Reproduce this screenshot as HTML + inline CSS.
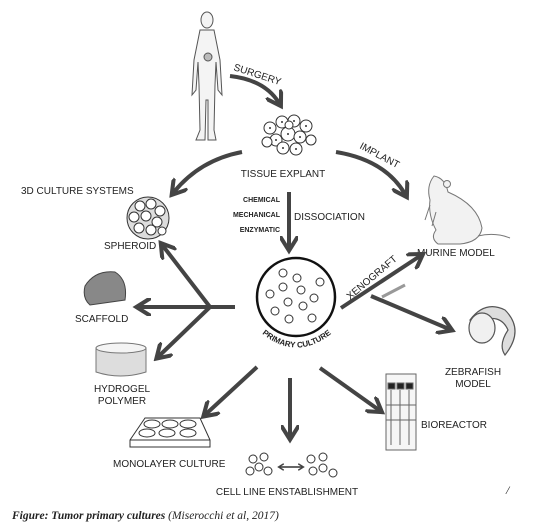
<!DOCTYPE html>
<html><head><meta charset="utf-8"><style>
html,body{margin:0;padding:0;background:#fff;}
svg{display:block;}
text{font-family:"Liberation Sans",sans-serif;fill:#222;}
.lbl{font-size:10px;}
.sm{font-size:7px;font-weight:bold;}
.arr{stroke:#444;stroke-width:4;fill:none;}
</style></head><body>
<svg width="542" height="526" viewBox="0 0 542 526">
<defs>
<marker id="ah" viewBox="0 0 10 10" refX="6" refY="5" markerWidth="4.6" markerHeight="4.6" orient="auto-start-reverse">
<path d="M0,0 L8,5 L0,10" fill="none" stroke="#444" stroke-width="2.2"/>
</marker>
</defs>

<g stroke="#555" stroke-width="1" fill="#f4f4f4">
<ellipse cx="207" cy="20" rx="6" ry="8"/>
<path d="M200,30 L214,30 L220,60 L222,95 L218,90 L216,62 L215,85 L214,130 L216,140 L208,140 L208,100 L206,100 L205,140 L196,140 L200,130 L199,85 L198,62 L196,90 L192,95 L194,60 Z"/>
<ellipse cx="208" cy="57" rx="4" ry="4" fill="#bbb"/>
</g>

<path class="arr" d="M230,76 Q265,80 279,103" marker-end="url(#ah)"/>
<text class="lbl" transform="translate(233,70) rotate(18)">SURGERY</text>

<g stroke="#333" stroke-width="1" fill="#fff">
<circle cx="270" cy="128" r="6"/><circle cx="282" cy="122" r="6"/><circle cx="294" cy="121" r="6"/><circle cx="306" cy="126" r="6"/>
<circle cx="276" cy="140" r="6"/><circle cx="288" cy="134" r="7"/><circle cx="300" cy="137" r="6"/><circle cx="311" cy="140" r="5"/>
<circle cx="283" cy="148" r="6"/><circle cx="296" cy="149" r="6"/><circle cx="267" cy="142" r="5"/><circle cx="289" cy="125" r="4"/>
<g fill="#333" stroke="none"><circle cx="270" cy="128" r="1"/><circle cx="282" cy="122" r="1"/><circle cx="294" cy="121" r="1"/><circle cx="306" cy="126" r="1"/><circle cx="276" cy="140" r="1"/><circle cx="288" cy="134" r="1"/><circle cx="300" cy="137" r="1"/><circle cx="283" cy="148" r="1"/><circle cx="296" cy="149" r="1"/></g>
</g>
<text class="lbl" x="283" y="177" text-anchor="middle">TISSUE EXPLANT</text>

<path class="arr" d="M242,152 Q200,160 174,192" marker-end="url(#ah)"/>
<path class="arr" d="M336,152 Q385,160 405,194" marker-end="url(#ah)"/>
<text class="lbl" transform="translate(359,148) rotate(28)">IMPLANT</text>

<text class="lbl" x="21" y="194">3D CULTURE SYSTEMS</text>

<g stroke="#333" stroke-width="1" fill="#fff">
<circle cx="148" cy="218" r="21" fill="#ddd"/>
<circle cx="140" cy="206" r="5"/><circle cx="151" cy="204" r="5"/><circle cx="160" cy="211" r="5"/>
<circle cx="134" cy="217" r="5"/><circle cx="146" cy="216" r="5"/><circle cx="157" cy="222" r="5"/>
<circle cx="139" cy="228" r="5"/><circle cx="151" cy="230" r="5"/><circle cx="162" cy="231" r="4"/>
</g>
<text class="lbl" x="104" y="249">SPHEROID</text>

<text class="sm" x="280" y="202" text-anchor="end">CHEMICAL</text>
<text class="sm" x="280" y="217" text-anchor="end">MECHANICAL</text>
<text class="sm" x="280" y="232" text-anchor="end">ENZYMATIC</text>
<text class="lbl" x="294" y="220">DISSOCIATION</text>
<line class="arr" x1="289" y1="192" x2="289" y2="247" marker-end="url(#ah)"/>

<g stroke="#777" stroke-width="1" fill="#f2f2f2">
<path d="M434,176 Q445,178 448,192 Q478,205 482,228 Q480,242 460,244 L438,244 Q430,238 436,230 Q428,215 430,200 Q426,186 434,176 Z"/>
<path d="M478,236 Q495,232 510,238" fill="none"/>
<circle cx="447" cy="184" r="3.5"/>
<path d="M430,205 L425,220 M436,212 L432,226" fill="none"/>
</g>
<text class="lbl" x="417" y="256">MURINE MODEL</text>

<g>
<circle cx="296" cy="297" r="39" fill="#fff" stroke="#111" stroke-width="2.5"/>
<g stroke="#333" stroke-width="1" fill="#fff">
<circle cx="270" cy="294" r="4"/><circle cx="283" cy="287" r="4"/><circle cx="301" cy="290" r="4"/><circle cx="314" cy="298" r="4"/>
<circle cx="275" cy="311" r="4"/><circle cx="288" cy="302" r="4"/><circle cx="303" cy="306" r="4"/><circle cx="312" cy="318" r="4"/>
<circle cx="289" cy="319" r="4"/><circle cx="297" cy="278" r="4"/><circle cx="320" cy="282" r="4"/><circle cx="283" cy="273" r="4"/>
</g>
</g>
<path id="pcpath" d="M258,330 Q296,365 336,330" fill="none"/>
<text style="font-size:8px;font-weight:bold"><textPath href="#pcpath" startOffset="6%">PRIMARY CULTURE</textPath></text>

<line class="arr" x1="341" y1="308" x2="420" y2="256" marker-end="url(#ah)"/>
<text class="lbl" transform="translate(350,300) rotate(-40)">XENOGRAFT</text>
<line x1="382" y1="297" x2="405" y2="285" stroke="#999" stroke-width="3"/>
<line class="arr" x1="371" y1="296" x2="449" y2="329" marker-end="url(#ah)"/>

<g stroke="#555" stroke-width="1.2">
<path d="M470,320 Q485,300 505,310 Q525,330 505,355 Q498,345 508,330 Q500,312 478,322 Z" fill="#ddd"/>
<ellipse cx="482" cy="328" rx="13" ry="15" fill="#f0f0f0"/>
</g>
<text class="lbl" x="473" y="375" text-anchor="middle">ZEBRAFISH</text>
<text class="lbl" x="473" y="387" text-anchor="middle">MODEL</text>

<g>
<line class="arr" x1="235" y1="307" x2="140" y2="307" marker-end="url(#ah)"/>
<line class="arr" x1="210" y1="307" x2="163" y2="246" marker-end="url(#ah)"/>
<line class="arr" x1="210" y1="307" x2="159" y2="356" marker-end="url(#ah)"/>
</g>

<path d="M85,286 Q95,270 115,272 Q128,280 125,300 L90,305 Q82,298 85,286 Z" fill="#888" stroke="#444"/>
<text class="lbl" x="75" y="322">SCAFFOLD</text>

<g stroke="#777" stroke-width="1">
<path d="M96,348 L96,372 Q120,380 146,372 L146,348 Z" fill="#ddd"/>
<ellipse cx="121" cy="348" rx="25" ry="5" fill="#f4f4f4"/>
</g>
<text class="lbl" x="122" y="392" text-anchor="middle">HYDROGEL</text>
<text class="lbl" x="122" y="404" text-anchor="middle">POLYMER</text>

<line class="arr" x1="257" y1="367" x2="206" y2="414" marker-end="url(#ah)"/>
<line class="arr" x1="290" y1="378" x2="290" y2="436" marker-end="url(#ah)"/>
<line class="arr" x1="320" y1="368" x2="379" y2="410" marker-end="url(#ah)"/>

<g stroke="#333" stroke-width="1" fill="#fff">
<path d="M130,440 L145,418 L200,418 L210,440 L210,447 L130,447 Z"/>
<line x1="130" y1="440" x2="210" y2="440"/>
<ellipse cx="152" cy="424" rx="8" ry="4"/><ellipse cx="170" cy="424" rx="8" ry="4"/><ellipse cx="188" cy="424" rx="8" ry="4"/>
<ellipse cx="147" cy="433" rx="8" ry="4"/><ellipse cx="167" cy="433" rx="8" ry="4"/><ellipse cx="188" cy="433" rx="8" ry="4"/>
</g>
<text class="lbl" x="113" y="467">MONOLAYER CULTURE</text>

<g stroke="#333" stroke-width="1" fill="#fff">
<circle cx="253" cy="459" r="4"/><circle cx="264" cy="457" r="4"/><circle cx="250" cy="471" r="4"/><circle cx="259" cy="467" r="4"/><circle cx="268" cy="471" r="4"/>
<circle cx="311" cy="459" r="4"/><circle cx="323" cy="457" r="4"/><circle cx="313" cy="471" r="4"/><circle cx="323" cy="468" r="4"/><circle cx="333" cy="473" r="4"/>
</g>
<line x1="280" y1="467" x2="302" y2="467" stroke="#333" stroke-width="1.5" marker-start="url(#ah)" marker-end="url(#ah)"/>
<text class="lbl" x="287" y="495" text-anchor="middle">CELL LINE ENSTABLISHMENT</text>

<g stroke="#666" stroke-width="1" fill="none">
<rect x="386" y="374" width="30" height="76" fill="#f6f6f6"/>
<rect x="388" y="383" width="7" height="6" fill="#222"/><rect x="397" y="383" width="7" height="6" fill="#222"/><rect x="406" y="383" width="7" height="6" fill="#222"/>
<line x1="391" y1="390" x2="391" y2="445"/><line x1="400" y1="390" x2="400" y2="445"/><line x1="409" y1="390" x2="409" y2="445"/>
<line x1="386" y1="405" x2="416" y2="405"/><line x1="386" y1="420" x2="416" y2="420"/>
</g>
<text class="lbl" x="421" y="428">BIOREACTOR</text>

<text x="506" y="494" style="font-family:'Liberation Serif',serif;font-size:12px;font-style:italic">/</text>

<text x="12" y="519" style="font-family:'Liberation Serif',serif;font-size:11.5px;font-style:italic"><tspan font-weight="bold">Figure: Tumor primary cultures</tspan> (Miserocchi et al, 2017)</text>
</svg>
</body></html>
